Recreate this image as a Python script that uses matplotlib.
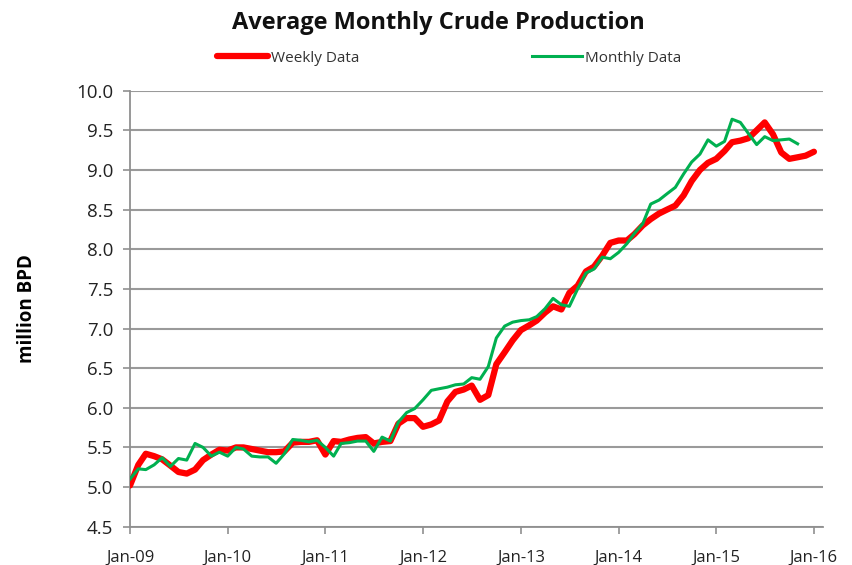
import numpy as np
import pandas as pd
import matplotlib
matplotlib.use('Agg')
import matplotlib.pyplot as plt
import matplotlib.dates as mdates

plt.rcParams['font.family'] = ['Open Sans', 'DejaVu Sans']

# monthly averages, Jan-09 onwards (million barrels per day)
weekly = [5.02, 5.28, 5.42, 5.39, 5.35, 5.27, 5.19, 5.17, 5.22, 5.34,
          5.41, 5.47, 5.46, 5.50, 5.50, 5.48, 5.46, 5.44, 5.44, 5.45,
          5.56, 5.57, 5.57, 5.59, 5.41, 5.58, 5.57, 5.60, 5.62, 5.63,
          5.55, 5.57, 5.58, 5.80, 5.87, 5.87, 5.76, 5.79, 5.84, 6.08,
          6.20, 6.23, 6.28, 6.10, 6.16, 6.55, 6.70, 6.85, 6.98, 7.04,
          7.10, 7.20, 7.28, 7.24, 7.45, 7.54, 7.72, 7.78, 7.92, 8.08,
          8.11, 8.11, 8.19, 8.30, 8.38, 8.45, 8.50, 8.55, 8.68, 8.86,
          9.00, 9.09, 9.14, 9.24, 9.35, 9.37, 9.40, 9.50, 9.60, 9.45,
          9.22, 9.14, 9.16, 9.18, 9.23]
monthly = [5.10, 5.23, 5.22, 5.28, 5.37, 5.26, 5.36, 5.34, 5.55, 5.50,
           5.39, 5.44, 5.39, 5.50, 5.48, 5.39, 5.38, 5.38, 5.30, 5.42,
           5.60, 5.59, 5.57, 5.59, 5.50, 5.39, 5.55, 5.56, 5.58, 5.58,
           5.45, 5.63, 5.58, 5.82, 5.94, 5.99, 6.10, 6.22, 6.24, 6.26,
           6.29, 6.30, 6.38, 6.36, 6.52, 6.88, 7.03, 7.08, 7.10, 7.11,
           7.15, 7.25, 7.38, 7.30, 7.28, 7.50, 7.70, 7.75, 7.90, 7.88,
           7.96, 8.07, 8.20, 8.32, 8.57, 8.62, 8.70, 8.78, 8.95, 9.10,
           9.20, 9.38, 9.30, 9.36, 9.64, 9.60, 9.46, 9.32, 9.42, 9.37,
           9.38, 9.39, 9.33]

weekly_dates = pd.date_range('2009-01-01', periods=len(weekly), freq='MS')
monthly_dates = pd.date_range('2009-01-01', periods=len(monthly), freq='MS')
year_ticks = pd.date_range('2009-01-01', '2016-01-01', freq='YS')

fig = plt.figure(figsize=(8.52, 5.65), dpi=100)
ax = fig.add_axes([0.1526, 0.0678, 0.8134, 0.7717])

ax.plot(weekly_dates, weekly, color='#FF0000', lw=4.5, label='Weekly Data',
        solid_capstyle='round', zorder=3)
ax.plot(monthly_dates, monthly, color='#00B050', lw=2.2, label='Monthly Data',
        zorder=4)

ax.set_ylim(4.5, 10.0)
ax.set_yticks(np.arange(4.5, 10.01, 0.5))
ax.yaxis.set_major_formatter(matplotlib.ticker.FormatStrFormatter('%.1f'))
ax.set_xlim(pd.Timestamp('2009-01-01'), pd.Timestamp('2016-02-04'))
ax.set_xticks(year_ticks)
ax.xaxis.set_major_formatter(mdates.DateFormatter('%b-%y'))

ax.grid(axis='y', color='#9A9A9A', lw=1.5)
ax.set_axisbelow(True)
for s in ['top', 'right']:
    ax.spines[s].set_visible(False)
for s in ['left', 'bottom']:
    ax.spines[s].set_color('#909090')
    ax.spines[s].set_linewidth(1.3)
ax.tick_params(axis='y', length=5, width=1.2, color='#909090', labelsize=13.5,
               labelcolor='#222222', pad=7)
ax.tick_params(axis='x', length=5, width=1.2, color='#909090', labelsize=12,
               labelcolor='#222222', pad=12)

ax.set_ylabel('million BPD', fontsize=13.5, fontweight='bold', labelpad=28)
fig.text(0.515, 0.96, 'Average Monthly Crude Production', ha='center',
         va='center', fontsize=17, fontweight='bold', color='#111111')

leg = ax.legend(loc='center', bbox_to_anchor=(0.5276, 0.897),
                bbox_transform=fig.transFigure, ncol=2, frameon=False,
                fontsize=11, handlelength=3.3, handletextpad=0.2,
                columnspacing=11.3)
for t in leg.get_texts():
    t.set_color('#333333')

fig.savefig('out.png', dpi=100)
